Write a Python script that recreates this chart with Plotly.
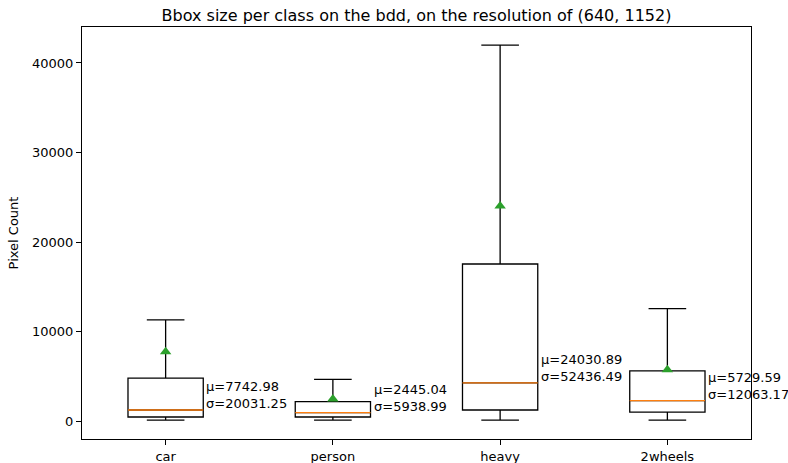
import plotly.graph_objects as go

categories = ["car", "person", "heavy", "2wheels"]
lower_whisker = [100, 100, 100, 100]
q1_vals = [450, 450, 1230, 1000]
median_vals = [1230, 930, 4250, 2270]
q3_vals = [4800, 2160, 17540, 5590]
upper_whisker = [11300, 4650, 42000, 12550]
mean_vals = [7742.98, 2445.04, 24030.89, 5729.59]
std_vals = [20031.25, 5938.99, 52436.49, 12063.17]

positions = list(range(1, len(categories) + 1))
box_w = 0.45
font = "DejaVu Sans"

fig = go.Figure()
fig.add_trace(go.Box(
    x=positions, q1=q1_vals, median=median_vals, q3=q3_vals,
    lowerfence=lower_whisker, upperfence=upper_whisker,
    width=box_w, whiskerwidth=0.5, boxpoints=False,
    line=dict(color="black", width=1.3), fillcolor="rgba(0,0,0,0)",
    showlegend=False, hoverinfo="skip",
))
# median lines in orange
for p, m in zip(positions, median_vals):
    fig.add_trace(go.Scatter(
        x=[p - box_w / 2, p + box_w / 2], y=[m, m], mode="lines",
        line=dict(color="#ff7f0e", width=1.3), showlegend=False, hoverinfo="skip",
    ))
# means
fig.add_trace(go.Scatter(
    x=positions, y=mean_vals, mode="markers",
    marker=dict(symbol="triangle-up", color="#2ca02c", size=10),
    showlegend=False, hoverinfo="skip",
))
for p, m, mu, sd in zip(positions, median_vals, mean_vals, std_vals):
    fig.add_annotation(
        x=p + box_w / 2, y=m, xanchor="left", yanchor="bottom", align="left",
        text=f"μ={mu:.2f}<br>σ={sd:.2f}", showarrow=False, xshift=1, yshift=-3,
        font=dict(family=font, size=13, color="black"),
    )

fig.update_layout(
    width=788, height=463,
    margin=dict(l=82, r=37, t=27, b=24, autoexpand=False),
    paper_bgcolor="white", plot_bgcolor="white",
    font=dict(family=font, size=13, color="black"),
    title=dict(text="Bbox size per class on the bdd, on the resolution of (640, 1152)",
               x=(82 + 751) / 2 / 788, xanchor="center", y=1 - 15 / 463, yanchor="middle",
               font=dict(family=font, size=16, color="black")),
)
fig.update_xaxes(
    range=[0.5, 4.5], tickvals=positions, ticktext=categories, automargin=False,
    showgrid=False, zeroline=False, showline=True, linecolor="black", linewidth=1,
    mirror=True, ticks="outside", ticklen=5, tickcolor="black",
)
fig.update_yaxes(
    range=[-2010, 44020], tickvals=[0, 10000, 20000, 30000, 40000], tickformat="d",
    automargin=False,
    showgrid=False, zeroline=False, showline=True, linecolor="black", linewidth=1,
    mirror=True, ticks="outside", ticklen=5, tickcolor="black",
    title=dict(text="Pixel Count", font=dict(family=font, size=13), standoff=10),
)

fig.write_html("out.html")
